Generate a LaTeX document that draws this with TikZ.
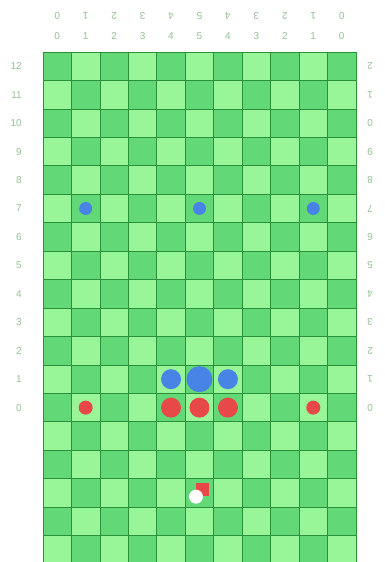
\documentclass[tikz,border=0pt]{standalone}
\usepackage{fontspec}
\setmainfont{Liberation Sans}
\usetikzlibrary{calc}
\definecolor{celldark}{RGB}{98,217,118}
\definecolor{celllight}{RGB}{152,246,152}
\definecolor{gridline}{RGB}{40,145,58}
\definecolor{labelgray}{RGB}{150,192,150}
\definecolor{pieceblue}{RGB}{72,132,230}
\definecolor{piecered}{RGB}{232,72,72}
\def\cs{28.45}
\tikzset{
  lbl/.style={text=labelgray, font=\fontsize{10}{12}\selectfont, inner sep=0pt},
  bluepc/.style={circle, fill=pieceblue, inner sep=0pt},
  redpc/.style={circle, fill=piecered, inner sep=0pt}
}

\begin{document}
\begin{tikzpicture}[x=1pt, y=-1pt]
    \useasboundingbox (0,0) rectangle (384,562);
    \fill[white] (0,0) rectangle (384,562);
    \begin{scope}
        \clip (0,0) rectangle (384,562);
        \foreach \c in {0,...,10}
            \foreach \i in {0,...,17} {
                \pgfmathsetmacro\xa{43+\cs*\c}
                \pgfmathsetmacro\ya{52+\cs*\i}
                \pgfmathparse{int(mod(\c+\i,2))}
                \ifnum\pgfmathresult=0 \def\cellcol{celldark}\else\def\cellcol{celllight}\fi
                \filldraw[fill=\cellcol, draw=gridline, line width=0.8pt] (\xa,\ya) rectangle ++(\cs,\cs);
                \coordinate (sq-\c-\i) at ({\xa+\cs/2},{\ya+\cs/2});
            }
    \end{scope}

    \foreach \c/\v in {0/0,1/1,2/2,3/3,4/4,5/5,6/4,7/3,8/2,9/1,10/0} {
        \node[lbl] (top-\c) at ($(sq-\c-0)+(0,-30.5)$) {\v};
        \node[lbl, rotate=180] (flip-\c) at ($(sq-\c-0)+(0,-50)$) {\v};
    }
    \foreach \r in {0,...,12} {
        \pgfmathsetmacro\yr{52+\cs*(12.5-\r)}
        \pgfmathtruncatemacro\d{mod(\r,10)}
        \node[lbl, anchor=east] (left-\r) at (22,\yr) {\r};
        \node[lbl, rotate=180] (right-\r) at (370,\yr) {\d};
    }

    \node[bluepc, minimum size=13pt] (b1) at (sq-1-5) {};
    \node[bluepc, minimum size=13pt] (b2) at (sq-5-5) {};
    \node[bluepc, minimum size=13pt] (b3) at (sq-9-5) {};
    \node[bluepc, minimum size=20pt] (b4) at (sq-4-11) {};
    \node[bluepc, minimum size=26pt] (b5) at (sq-5-11) {};
    \node[bluepc, minimum size=20pt] (b6) at (sq-6-11) {};

    \node[redpc, minimum size=14pt] (r1) at (sq-1-12) {};
    \node[redpc, minimum size=20pt] (r2) at (sq-4-12) {};
    \node[redpc, minimum size=20pt] (r3) at (sq-5-12) {};
    \node[redpc, minimum size=20pt] (r4) at (sq-6-12) {};
    \node[redpc, minimum size=14pt] (r5) at (sq-9-12) {};

    \node[fill=piecered, inner sep=0pt, minimum size=13.5pt] (home) at ($(sq-5-15)+(3,-3.3)$) {};
    \node[circle, fill=white, inner sep=0pt, minimum size=14pt] (ball) at ($(sq-5-15)+(-3.5,3.7)$) {};
\end{tikzpicture}
\end{document}
